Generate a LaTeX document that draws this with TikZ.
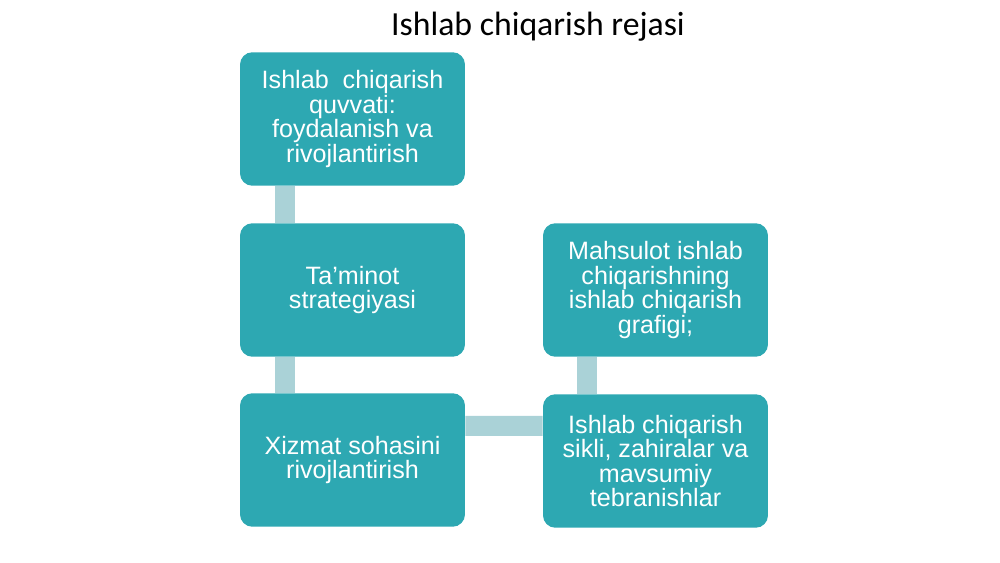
\documentclass[tikz,border=0pt]{standalone}
\usepackage{fontspec}
\setmainfont{Liberation Sans}
\newfontfamily\sarlavha{Carlito}
\definecolor{firuza}{RGB}{45,168,178}
\definecolor{ochfiruza}{RGB}{170,210,215}
\tikzset{
  blok/.style={rectangle, rounded corners=7pt, fill=firuza, text=white, minimum width=4.5cm, minimum height=2.67cm, inner sep=2pt, align=center, font=\fontsize{14.3}{14}\selectfont},
  bog/.style={draw=ochfiruza, line width=0.4cm}
}
\begin{document}
\begin{tikzpicture}[x=0.02cm, y=-0.02cm]
      \useasboundingbox (0,0) rectangle (1000,563);
      \node[font=\sarlavha\fontsize{19.2}{20}\selectfont, anchor=base] (sarlavha) at (538,36) {Ishlab chiqarish rejasi};

      \node[blok] (quvvat) at (352.5,119) {Ishlab\ \ chiqarish\\quvvati:\\foydalanish va\\rivojlantirish};
      \node[blok] (taminot) at (352.5,290) {Ta’minot\\strategiyasi};
      \node[blok] (xizmat) at (352.5,460) {Xizmat sohasini\\rivojlantirish};
      \node[blok] (grafik) at (655.5,290) {Mahsulot ishlab\\chiqarishning\\ishlab chiqarish\\grafigi;};
      \node[blok] (sikl) at (655.5,461) {Ishlab chiqarish\\sikli, zahiralar va\\mavsumiy\\tebranishlar};

      \draw[bog] ([xshift=0.9cm]quvvat.south west) -- ([xshift=0.9cm]taminot.north west);
      \draw[bog] ([xshift=0.9cm]taminot.south west) -- ([xshift=0.9cm]xizmat.north west);
      \draw[bog] ([yshift=-0.66cm]xizmat.north east) -- ([yshift=-0.64cm]sikl.north west);
      \draw[bog] ([xshift=0.89cm]grafik.south west) -- ([xshift=0.89cm]sikl.north west);
    \end{tikzpicture}
\end{document}
